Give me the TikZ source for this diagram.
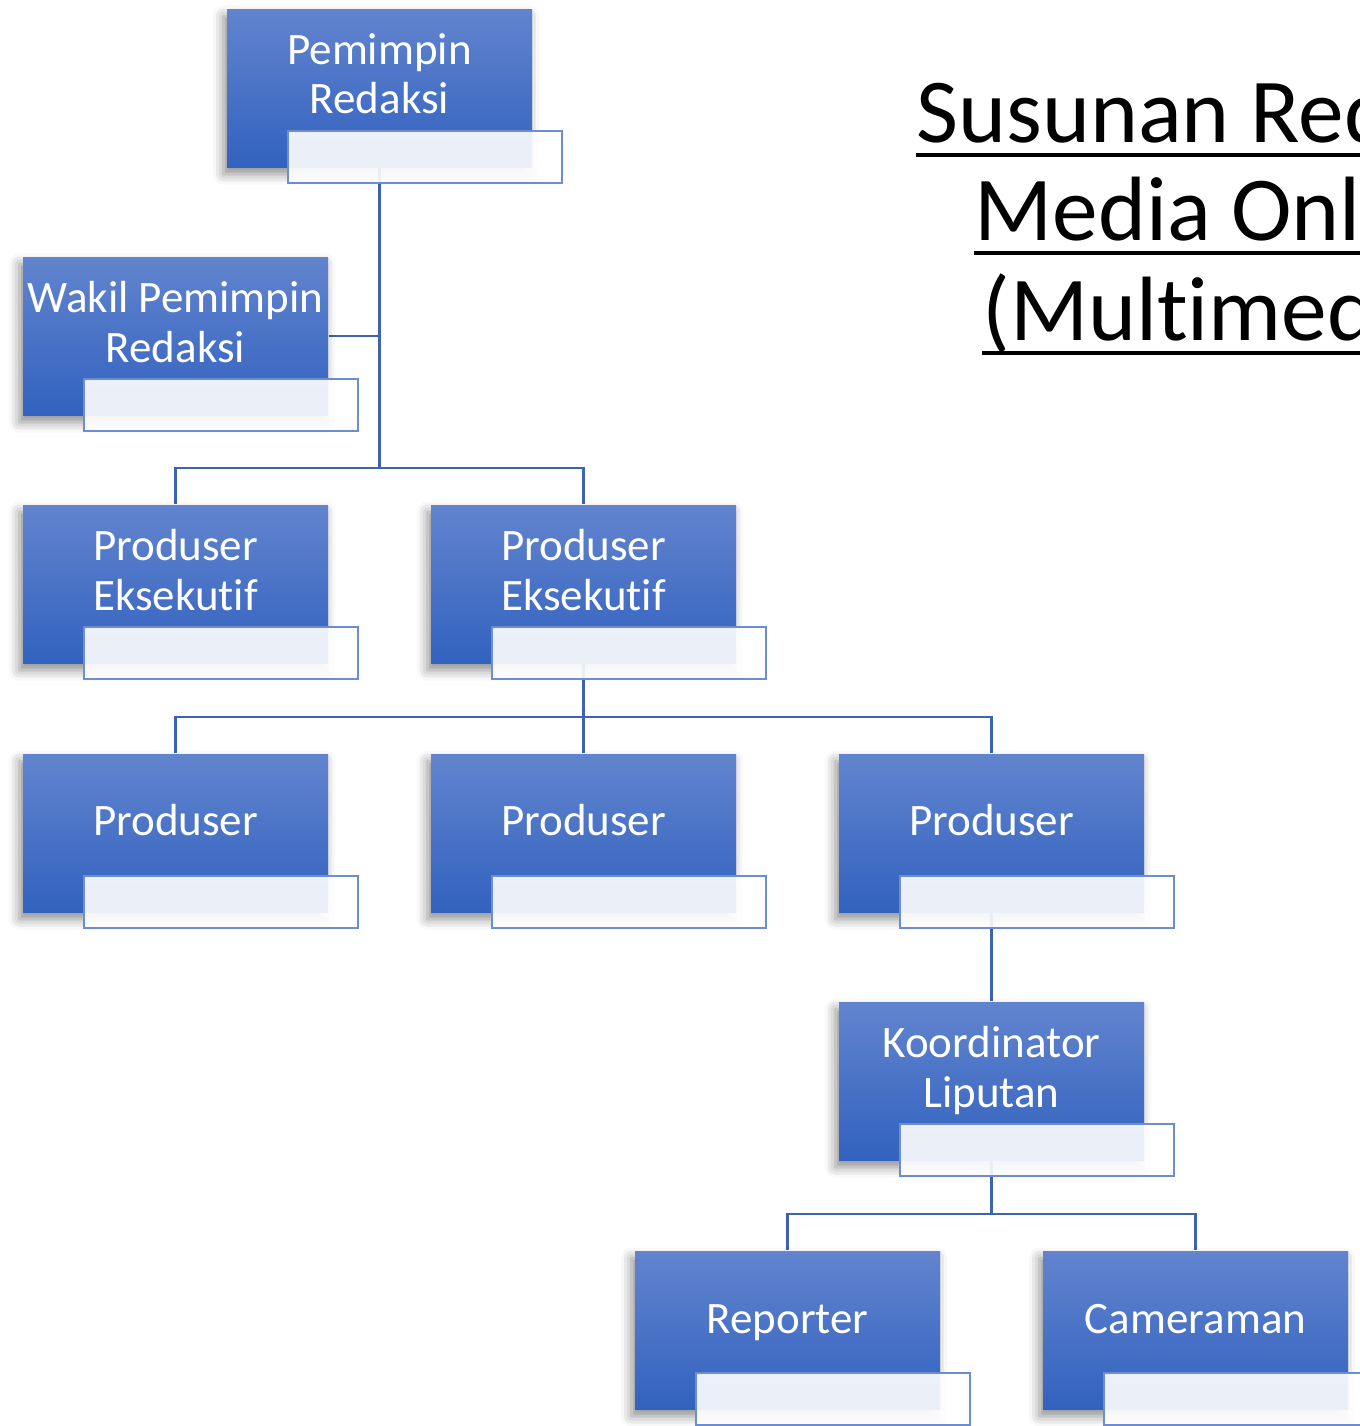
\documentclass[tikz,border=0pt]{standalone}
\usepackage{fontspec}
\setmainfont[Ligatures=NoCommon]{Carlito}
\usetikzlibrary{shadows.blur,backgrounds}
\definecolor{boxtop}{RGB}{98,132,206}
\definecolor{boxbot}{RGB}{50,98,191}
\definecolor{linkblue}{RGB}{60,100,178}
\definecolor{subedge}{RGB}{108,142,208}
\tikzset{
	unit/.style={rectangle, minimum width=3.05cm, minimum height=1.58cm, top color=boxtop, bottom color=boxbot,
		blur shadow={shadow xshift=-1pt, shadow yshift=-2pt, shadow blur radius=3pt, shadow opacity=45}},
	unittext/.style={text=white, align=center, inner sep=0pt, font=\fontsize{12.8}{14.2}\selectfont,
		execute at begin node=\strut, execute at end node=\strut},
	subunit/.style={rectangle, minimum width=2.74cm, minimum height=0.52cm, draw=subedge, line width=0.6pt,
		fill=white, fill opacity=0.9, anchor=north west},
	link/.style={draw=linkblue, line width=0.8pt},
	titletext/.style={font=\fontsize{26}{26}\selectfont, inner sep=0pt, anchor=base},
	titleline/.style={line width=0.04cm}
}
\begin{document}
\begin{tikzpicture}
	\useasboundingbox (0,0) rectangle (13.59,-14.26);
	% boxes
	\node[unit] (pr) at (3.795,-0.88) {};
	\node[unittext] (pr-t) at ([yshift=0.07cm]pr.center) {Pemimpin\\Redaksi};
	\node[subunit] (pr-s) at ([xshift=0.61cm,yshift=-1.22cm]pr.north west) {};
	\node[unit] (wakil) at (1.755,-3.36) {};
	\node[unittext] (wakil-t) at ([yshift=0.07cm]wakil.center) {Wakil Pemimpin\\Redaksi};
	\node[subunit] (wakil-s) at ([xshift=0.61cm,yshift=-1.22cm]wakil.north west) {};
	\node[unit] (pe1) at (1.755,-5.84) {};
	\node[unittext] (pe1-t) at ([yshift=0.07cm]pe1.center) {Produser\\Eksekutif};
	\node[subunit] (pe1-s) at ([xshift=0.61cm,yshift=-1.22cm]pe1.north west) {};
	\node[unit] (pe2) at (5.835,-5.84) {};
	\node[unittext] (pe2-t) at ([yshift=0.07cm]pe2.center) {Produser\\Eksekutif};
	\node[subunit] (pe2-s) at ([xshift=0.61cm,yshift=-1.22cm]pe2.north west) {};
	\node[unit] (p1) at (1.755,-8.33) {};
	\node[unittext] (p1-t) at ([yshift=0.07cm]p1.center) {Produser};
	\node[subunit] (p1-s) at ([xshift=0.61cm,yshift=-1.22cm]p1.north west) {};
	\node[unit] (p2) at (5.835,-8.33) {};
	\node[unittext] (p2-t) at ([yshift=0.07cm]p2.center) {Produser};
	\node[subunit] (p2-s) at ([xshift=0.61cm,yshift=-1.22cm]p2.north west) {};
	\node[unit] (p3) at (9.915,-8.33) {};
	\node[unittext] (p3-t) at ([yshift=0.07cm]p3.center) {Produser};
	\node[subunit] (p3-s) at ([xshift=0.61cm,yshift=-1.22cm]p3.north west) {};
	\node[unit] (kl) at (9.915,-10.81) {};
	\node[unittext] (kl-t) at ([yshift=0.07cm]kl.center) {Koordinator\\Liputan};
	\node[subunit] (kl-s) at ([xshift=0.61cm,yshift=-1.22cm]kl.north west) {};
	\node[unit] (rep) at (7.875,-13.30) {};
	\node[unittext] (rep-t) at ([yshift=0.07cm]rep.center) {Reporter};
	\node[subunit] (rep-s) at ([xshift=0.61cm,yshift=-1.22cm]rep.north west) {};
	\node[unit] (cam) at (11.955,-13.30) {};
	\node[unittext] (cam-t) at ([yshift=0.07cm]cam.center) {Cameraman};
	\node[subunit] (cam-s) at ([xshift=0.61cm,yshift=-1.22cm]cam.north west) {};
	% links
	\begin{scope}[on background layer]
		\coordinate (j1) at (3.795,-4.68);
		\coordinate (j2) at (5.835,-7.17);
		\coordinate (j3) at (9.915,-12.14);
		\draw[link] (pr.south) -- (j1);
		\draw[link] (wakil.east) -- (wakil.east -| pr.south);
		\draw[link] (pe1.north) |- (j1) -| (pe2.north);
		\draw[link] (pe2.south) -- (p2.north);
		\draw[link] (p1.north) |- (j2) -| (p3.north);
		\draw[link] (p3.south) -- (kl.north);
		\draw[link] (kl.south) -- (j3);
		\draw[link] (rep.north) |- (j3) -| (cam.north);
	\end{scope}
	% title
	\node[titletext] (t1) at (12.25,-1.42) {Susunan Redaksi};
	\node[titletext] (t2) at (12.25,-2.40) {Media Online};
	\node[titletext] (t3) at (12.25,-3.40) {(Multimedia)};
	\draw[titleline] ([yshift=-0.13cm]t1.base west) -- ([yshift=-0.13cm]t1.base east);
	\draw[titleline] ([yshift=-0.13cm]t2.base west) -- ([yshift=-0.13cm]t2.base east);
	\draw[titleline] ([yshift=-0.13cm]t3.base west) -- ([yshift=-0.13cm]t3.base east);
\end{tikzpicture}
\end{document}
